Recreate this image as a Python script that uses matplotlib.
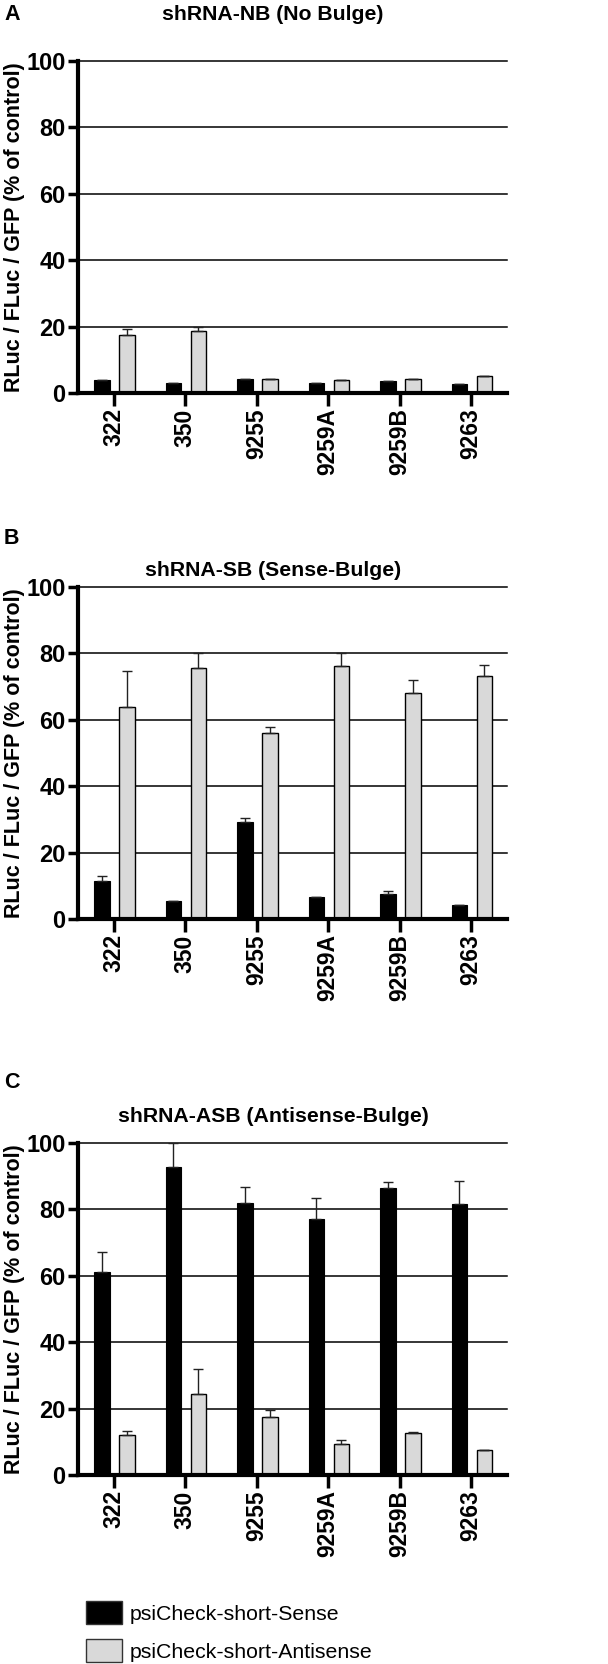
import numpy as np
import matplotlib.pyplot as plt
from matplotlib.patches import Patch

plt.rcParams["font.family"] = ["Liberation Sans", "DejaVu Sans"]

constructs = ["322", "350", "9255", "9259A", "9259B", "9263"]

# panel A - shRNA-NB
nb_sense = [4.0, 3.0, 4.3, 3.0, 3.5, 2.8]
nb_sense_err = [0.0, 0.0, 0.0, 0.0, 0.0, 0.0]
nb_anti = [17.5, 18.6, 4.2, 3.8, 4.2, 5.0]
nb_anti_err = [1.8, 1.2, 0.0, 0.2, 0.0, 0.0]

# panel B - shRNA-SB
sb_sense = [11.4, 5.5, 29.3, 6.5, 7.5, 4.3]
sb_sense_err = [1.5, 0.0, 1.1, 0.0, 1.0, 0.0]
sb_anti = [64.0, 75.7, 56.1, 76.3, 68.0, 73.2]
sb_anti_err = [10.6, 4.5, 1.7, 3.8, 3.9, 3.3]

# panel C - shRNA-ASB
asb_sense = [61.0, 92.7, 81.9, 77.1, 86.4, 81.6]
asb_sense_err = [6.1, 7.3, 4.7, 6.3, 2.0, 7.1]
asb_anti = [12.0, 24.5, 17.4, 9.4, 12.7, 7.4]
asb_anti_err = [1.2, 7.5, 2.3, 1.0, 0.2, 0.0]

panels = [
    ("A", "shRNA-NB (No Bulge)", nb_sense, nb_sense_err, nb_anti, nb_anti_err),
    ("B", "shRNA-SB (Sense-Bulge)", sb_sense, sb_sense_err, sb_anti, sb_anti_err),
    ("C", "shRNA-ASB (Antisense-Bulge)", asb_sense, asb_sense_err, asb_anti, asb_anti_err),
]

W, H = 608, 1664
fig = plt.figure(figsize=(W/100, H/100), dpi=100)

gray = "#d9d9d9"
# (top of axes, letter y, title y) in pixels
layout = [(61, 15, 15), (587, 538, 570), (1143, 1083, 1117)]
ax_left, ax_right, ax_h = 78, 507, 332

x = np.arange(len(constructs))
bw = 0.22
ekw = dict(ecolor="#222222", elinewidth=1.0, capthick=1.0)

for (letter, title, s, se, a, ae), (top, ly, ty) in zip(panels, layout):
    ax = fig.add_axes([ax_left/W, 1-(top+ax_h)/H, (ax_right-ax_left)/W, ax_h/H])
    ax.set_axisbelow(True)
    ax.yaxis.grid(True, color="black", linewidth=1.1)
    ax.bar(x-0.165, s, bw, color="black", edgecolor="black", linewidth=0.8,
           yerr=[np.zeros(6), se], capsize=3.5, error_kw=ekw)
    ax.bar(x+0.185, a, bw, color=gray, edgecolor="black", linewidth=1.0,
           yerr=[np.zeros(6), ae], capsize=3.5, error_kw=ekw)
    ax.set_xlim(-0.5, 5.5)
    ax.set_ylim(0, 100)
    ax.set_yticks([0, 20, 40, 60, 80, 100])
    for gl in ax.get_ygridlines():
        gl.set_clip_on(False)
    ax.set_xticks(x)
    ax.set_xticklabels(constructs, rotation=90, fontsize=16.5, fontweight="bold")
    for lab in ax.get_yticklabels():
        lab.set_fontsize(17)
        lab.set_fontweight("bold")
    ax.spines["top"].set_visible(False)
    ax.spines["right"].set_visible(False)
    ax.spines["left"].set_linewidth(3)
    ax.spines["bottom"].set_linewidth(3)
    ax.tick_params(axis="y", width=2.5, length=7, pad=2)
    ax.tick_params(axis="x", width=2.5, length=9, pad=2)
    ax.set_ylabel("RLuc / FLuc / GFP (% of control)", fontsize=15.5, fontweight="bold")
    ax.yaxis.set_label_coords(-(ax_left-25)/(ax_right-ax_left), 0.5)
    fig.text(273/W, 1-ty/H, title, ha="center", va="center", fontsize=15.3, fontweight="bold")
    fig.text(4/W, 1-ly/H, letter, ha="left", va="center", fontsize=15.5, fontweight="bold")

handles = [Patch(facecolor="black", edgecolor="#333333", label="psiCheck-short-Sense"),
           Patch(facecolor=gray, edgecolor="#333333", label="psiCheck-short-Antisense")]
fig.legend(handles=handles, loc="upper left", bbox_to_anchor=(67/W, 1-1582/H), frameon=False,
           fontsize=15.3, handlelength=1.7, handleheight=1.3, labelspacing=0.7, handletextpad=0.35)

plt.savefig("out.png", dpi=100)
